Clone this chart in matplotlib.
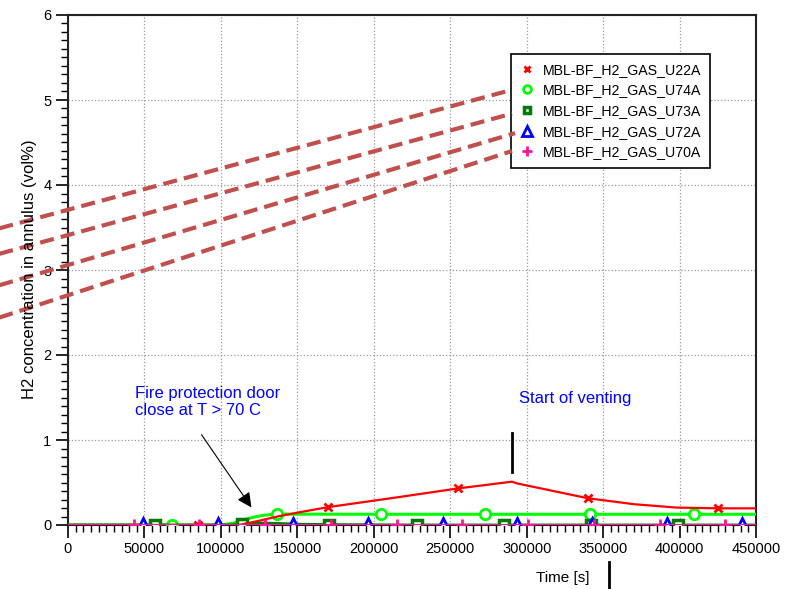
import numpy as np
import matplotlib.pyplot as plt
from matplotlib.ticker import MultipleLocator

plt.rcParams['font.family'] = ['Liberation Sans', 'DejaVu Sans']

# sensor traces (time [s], H2 vol%)
t_u22a = [0, 85000, 112000, 125000, 136500, 150000, 170000, 217000, 255000, 290500, 293500, 340000, 370000, 398000, 425000, 450000]
v_u22a = [0, 0, 0, 0.05, 0.098, 0.145, 0.21, 0.33, 0.43, 0.51, 0.49, 0.315, 0.245, 0.205, 0.196, 0.196]
mk_u22a = [1, 6, 8, 11, 14]

t_u74a = [0, 68000, 100000, 108000, 114500, 121000, 128000, 136500, 205000, 273000, 341500, 409500, 450000]
v_u74a = [0, 0, 0, 0.02, 0.06, 0.09, 0.115, 0.128, 0.126, 0.126, 0.126, 0.126, 0.126]
mk_u74a = [1, 7, 8, 9, 10, 11]

t_u73a = [0, 57000, 105000, 114000, 122000, 135000, 150000, 171000, 228000, 285000, 342000, 399000, 450000]
v_u73a = [0, 0, 0, 0.01, 0.025, 0.02, 0.01, 0.005, 0, 0, 0, 0, 0]
mk_u73a = [1, 3, 7, 8, 9, 10, 11]

t_u72a = [0, 49000, 98000, 147000, 196000, 245000, 294000, 343000, 392000, 441000, 450000]
v_u72a = [0, 0, 0, 0, 0, 0, 0, 0, 0, 0, 0]
mk_u72a = [1, 2, 3, 4, 5, 6, 7, 8, 9]

t_u70a = [0, 43000, 86000, 129000, 172000, 215000, 258000, 301000, 344000, 387000, 430000, 450000]
v_u70a = [0, 0, 0, 0, 0, 0, 0, 0, 0, 0, 0, 0]
mk_u70a = [1, 2, 3, 4, 5, 6, 7, 8, 9, 10]

# leader lines from the left edge to the legend entries
lead_t0 = [-45000, -45000, -45000, -45000]
lead_v0 = [3.49, 3.19, 2.82, 2.44]
lead_t1 = [290400, 290400, 292400, 290400]
lead_v1 = [5.12, 4.84, 4.61, 4.40]

fig = plt.figure(figsize=(7.9, 5.89), dpi=100)
ax = fig.add_axes([68/790, 64/589, 688/790, 510/589])

ax.plot(t_u22a, v_u22a, color='#ff0000', lw=1.6, marker='x', ms=5.5, mew=2,
        markevery=mk_u22a, label='MBL-BF_H2_GAS_U22A', zorder=4)
ax.plot(t_u74a, v_u74a, color='#00ff00', lw=2.2, marker='o', ms=7.5, mew=2,
        mfc='white', markevery=mk_u74a, label='MBL-BF_H2_GAS_U74A', zorder=3)
ax.plot(t_u73a, v_u73a, color='#007a00', lw=2.0, marker='s', ms=6.5, mew=2.5,
        mfc='white', markevery=mk_u73a, label='MBL-BF_H2_GAS_U73A', zorder=3)
ax.plot(t_u72a, v_u72a, color='#0000ff', lw=2.0, marker='^', ms=10, mew=2,
        mfc='white', markevery=mk_u72a, label='MBL-BF_H2_GAS_U72A', zorder=3)
ax.plot(t_u70a, v_u70a, color='#ff1493', lw=2.2, marker='+', ms=9, mew=2,
        markevery=mk_u70a, label='MBL-BF_H2_GAS_U70A', zorder=5)

for a, b, c, d in zip(lead_t0, lead_v0, lead_t1, lead_v1):
    ax.plot([a, c], [b, d], color='#c0504d', lw=3, dashes=(3.4, 1.7),
            clip_on=False, zorder=6)

ax.set_xlim(0, 450000)
ax.set_ylim(0, 6)
ax.xaxis.set_major_locator(MultipleLocator(50000))
ax.xaxis.set_minor_locator(MultipleLocator(5000))
ax.yaxis.set_major_locator(MultipleLocator(1))
ax.yaxis.set_minor_locator(MultipleLocator(0.1))
ax.tick_params(which='major', direction='out', length=9, width=1.2, labelsize=10.5, pad=3)
ax.tick_params(which='minor', direction='out', length=5, width=1.0)
ax.grid(True, which='major', color='#999999', ls=':', lw=0.9)
for s in ax.spines.values():
    s.set_linewidth(1.5)
    s.set_color('#222222')

fig.text(30/790, 1 - 269/589, 'H2 concentration in annulus (vol%)', rotation=90,
         ha='center', va='center', fontsize=12)
fig.text(563/790, 1 - 578/589, 'Time [s]', ha='center', va='center', fontsize=11)

ax.text(43800, 1.63, 'Fire protection door\nclose at T > 70 C', color='#0000ff',
        fontsize=12, va='top', ha='left', linespacing=1.15)
ax.annotate('', xy=(121000, 0.18), xytext=(86300, 1.09),
            arrowprops=dict(arrowstyle='-|>', color='black', lw=0.8, mutation_scale=22))
ax.text(295000, 1.49, 'Start of venting', color='#0000ff', fontsize=12,
        va='center', ha='left')
ax.plot([290400, 290400], [0.62, 1.08], color='black', lw=2)
ax.plot([353800, 353800], [-0.44, -0.8], color='black', lw=2, clip_on=False)

leg = ax.legend(loc='upper left', bbox_to_anchor=(504/790, 1 - 47/589),
                bbox_transform=fig.transFigure, fontsize=10.2, frameon=True,
                fancybox=False, edgecolor='black', framealpha=1,
                handlelength=1.0, handletextpad=0.65, labelspacing=0.47,
                borderpad=0.6, markerscale=0.75)
leg.get_frame().set_linewidth(1.2)
for h in leg.legend_handles:
    h.set_linestyle('None')

plt.savefig('out.png', dpi=100)
